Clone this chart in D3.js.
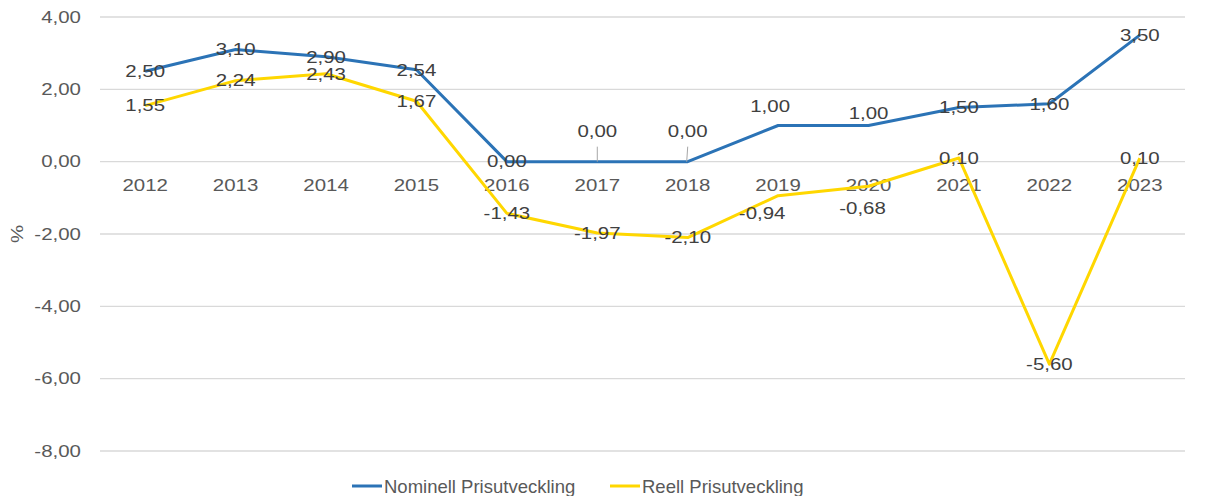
<!DOCTYPE html>
<html><head><meta charset="utf-8">
<script src="https://cdn.jsdelivr.net/npm/d3@7"></script>
<style>body{margin:0;background:#fff}svg{display:block}</style>
</head><body>
<svg id="c" width="1205" height="496"></svg>
<script>
const years = ["2012","2013","2014","2015","2016","2017","2018","2019","2020","2021","2022","2023"];
const nominell = [2.50,3.10,2.90,2.54,0.00,0.00,0.00,1.00,1.00,1.50,1.60,3.50];
const reell = [1.55,2.24,2.43,1.67,-1.43,-1.97,-2.10,-0.94,-0.68,0.10,-5.60,0.10];
const yTicks = [4,2,0,-2,-4,-6,-8];
const seriesNames = ["Nominell Prisutveckling","Reell Prisutveckling"];
const colors = ["#2b73b6","#ffd700"];
// label placement: [dx, dy] offsets from point (center of text)
const nomOff = [[0,0],[0,0],[0,0],[0,0],[0,0],[0,-30],[0,-30],[-8,-19],[0,-12],[0,0],[0,0],[0,0]];
const reeOff = [[0,0],[0,0],[0,0],[0,0],[0,0],[0,0],[0,0],[-16,18],[-6,22],[0,0],[0,0],[0,0]];

const svg = d3.select("#c");
const x = d3.scalePoint().domain(years).range([100,1185]).padding(0.5);
const y = d3.scaleLinear().domain([-8,4]).range([451,17]);
const fmt = v => d3.format(".2f")(v).replace(".",",").replace("−","-");
const SX = 1.24, textCol = "#404040";

function stext(g, tx, ty, str, anchor, size, fill){
  return g.append("text").attr("transform",`translate(${tx},${ty}) scale(${SX},1)`)
    .attr("text-anchor",anchor).attr("dominant-baseline","central")
    .style("font-family","'Liberation Sans',Arial,sans-serif").style("font-size",size+"px")
    .attr("fill",fill||textCol).text(str);
}

// gridlines
const grid = svg.append("g");
yTicks.forEach(t=>{
  grid.append("line").attr("x1",100).attr("x2",1185).attr("y1",y(t)).attr("y2",y(t))
    .attr("stroke","#d9d9d9").attr("stroke-width",1.3);
  stext(grid, 81, y(t), fmt(t), "end", 16.5, "#595959");
});
// y title
svg.append("text").attr("transform",`translate(17,${y(-2)}) rotate(-90) scale(${SX},1)`)
  .attr("text-anchor","middle").attr("dominant-baseline","central")
  .style("font-family","'Liberation Sans',Arial,sans-serif").style("font-size","16.5px")
  .attr("fill","#595959").text("%");
// x labels
years.forEach(yr=> stext(svg, x(yr), y(0)+24, yr, "middle", 16.5, "#595959"));

const line = d3.line().x((d,i)=>x(years[i])).y(d=>y(d));
svg.append("path").datum(reell).attr("d",line).attr("fill","none").attr("stroke",colors[1]).attr("stroke-width",3).attr("stroke-linejoin","round");
svg.append("path").datum(nominell).attr("d",line).attr("fill","none").attr("stroke",colors[0]).attr("stroke-width",3).attr("stroke-linejoin","round");

// leader lines for 2017, 2018 nominal
[5,6].forEach(i=>{
  svg.append("line").attr("x1",x(years[i])).attr("x2",x(years[i])+(i===6?-1:0))
    .attr("y1",y(nominell[i])-15).attr("y2",y(nominell[i])).attr("stroke","#a6a6a6").attr("stroke-width",1);
});

const lab = svg.append("g");
nominell.forEach((v,i)=> stext(lab, x(years[i])+nomOff[i][0], y(v)+nomOff[i][1], fmt(v), "middle", 16.5));
reell.forEach((v,i)=> stext(lab, x(years[i])+reeOff[i][0], y(v)+reeOff[i][1], fmt(v), "middle", 16.5));

// legend
const leg = svg.append("g");
const legX = [352, 610];
seriesNames.forEach((n,i)=>{
  leg.append("line").attr("x1",legX[i]).attr("x2",legX[i]+30).attr("y1",486).attr("y2",486)
    .attr("stroke",colors[i]).attr("stroke-width",3);
  leg.append("text").attr("x",legX[i]+32).attr("y",486).attr("dominant-baseline","central")
    .style("font-family","'Liberation Sans',Arial,sans-serif").style("font-size","18.5px")
    .attr("fill","#595959").text(n);
});
</script>
</body></html>
